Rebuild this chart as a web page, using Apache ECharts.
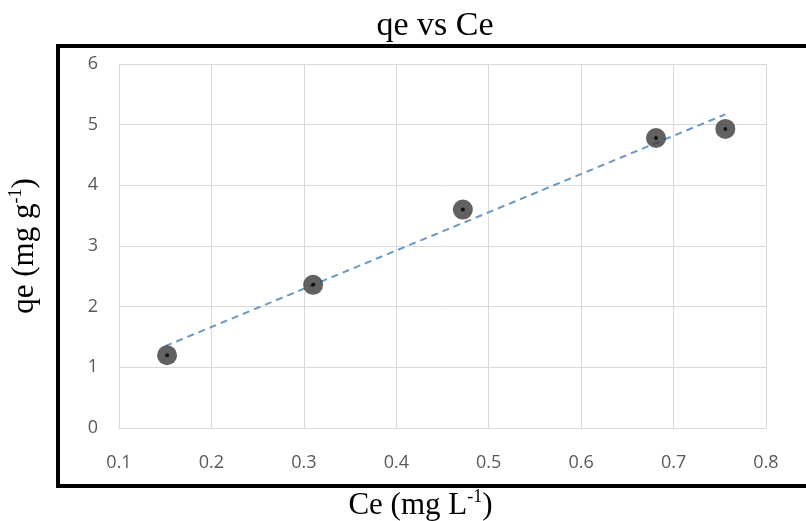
<!DOCTYPE html>
<html>
<head>
<meta charset="utf-8">
<title>qe vs Ce</title>
<script src="https://cdn.jsdelivr.net/npm/echarts@6/dist/echarts.min.js"></script>
<style>
html, body { margin: 0; padding: 0; background: #fff; }
#chart { width: 806px; height: 521px; }
</style>
</head>
<body>
<div id="chart"></div>
<script>
// measured points (Ce, qe)
var ceValues = [0.152, 0.31, 0.472, 0.681, 0.756];
var qeValues = [1.2, 2.36, 3.6, 4.78, 4.93];

// linear trendline ends
var trendCe = [0.15, 0.756];
var trendQe = [1.35, 5.17];

// tick labels
var xTickLabels = ['0.1', '0.2', '0.3', '0.4', '0.5', '0.6', '0.7', '0.8'];
var yTickLabels = ['0', '1', '2', '3', '4', '5', '6'];

function pairs(xs, ys) {
    var out = [];
    for (var i = 0; i < xs.length; i++) {
        out.push([xs[i], ys[i]]);
    }
    return out;
}

var serif = '"Liberation Serif", "Times New Roman", serif';
var tickFont = { color: '#595959', fontSize: 18, fontFamily: '"Open Sans", sans-serif' };
var nameRich = {
    n: { fontFamily: serif, fontSize: 31, lineHeight: 36, color: '#000' },
    s: { fontFamily: serif, fontSize: 18, lineHeight: 36, verticalAlign: 'top', color: '#000' }
};

var myChart = echarts.init(document.getElementById('chart'));

var option = {
    backgroundColor: '#fff',
    animation: false,
    grid: { left: 119, right: 40, top: 64, bottom: 93, outerBoundsMode: 'none', containLabel: false },
    graphic: [
        {
            type: 'rect',
            shape: { x: 58, y: 46, width: 800, height: 440 },
            style: { fill: 'none', stroke: '#000', lineWidth: 4 },
            silent: true
        },
        {
            type: 'text',
            x: 435, y: 26,
            style: {
                text: 'qe vs Ce',
                fontFamily: serif, fontSize: 34, fill: '#000',
                textAlign: 'center', textVerticalAlign: 'middle'
            }
        }
    ],
    xAxis: {
        type: 'value',
        min: 0.1, max: 0.8, interval: 0.1,
        name: '{n|Ce (mg L}{s|-1}{n|)}',
        nameLocation: 'middle',
        nameGap: 60,
        nameTextStyle: { rich: nameRich, padding: [0, 44, 0, 0] },
        axisLine: { show: true, lineStyle: { color: '#d9d9d9', width: 1 } },
        axisTick: { show: false },
        axisLabel: {
            margin: 26,
            color: tickFont.color, fontSize: tickFont.fontSize, fontFamily: tickFont.fontFamily,
            formatter: function (v) {
                var i = Math.round((v - 0.1) / 0.1);
                return xTickLabels[i];
            }
        },
        splitLine: { show: true, lineStyle: { color: '#d9d9d9', width: 1 } }
    },
    yAxis: {
        type: 'value',
        min: 0, max: 6, interval: 1,
        name: '{n|qe (mg g}{s|-1}{n|)}',
        nameLocation: 'middle',
        nameGap: 76,
        nameTextStyle: { rich: nameRich },
        axisLine: { show: false },
        axisTick: { show: false },
        axisLabel: {
            margin: 21,
            color: tickFont.color, fontSize: tickFont.fontSize, fontFamily: tickFont.fontFamily,
            formatter: function (v) { return yTickLabels[Math.round(v)]; }
        },
        splitLine: { show: true, lineStyle: { color: '#d9d9d9', width: 1 } }
    },
    series: [
        {
            name: 'Linear (qe)',
            type: 'line',
            data: pairs(trendCe, trendQe),
            showSymbol: false,
            silent: true,
            lineStyle: { color: '#6a98c4', width: 2, type: [7, 5] },
            z: 3
        },
        {
            name: 'qe',
            type: 'scatter',
            data: pairs(ceValues, qeValues),
            symbol: 'circle',
            symbolSize: 20,
            itemStyle: { color: '#3a3a3a' },
            z: 4
        },
        {
            name: 'qe centre',
            type: 'scatter',
            data: pairs(ceValues, qeValues),
            symbol: 'circle',
            symbolSize: 4,
            silent: true,
            itemStyle: { color: '#000' },
            z: 5
        }
    ]
};

myChart.setOption(option);
</script>
</body>
</html>
